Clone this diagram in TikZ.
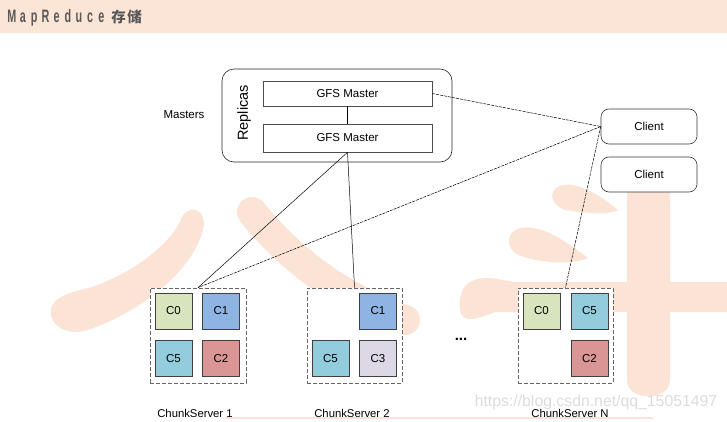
\documentclass[tikz,border=0pt]{standalone}
\usepackage{fontspec}
\setmainfont{Liberation Sans}
\newfontfamily\cjk{Noto Sans CJK SC}
\usepackage{graphicx}
\definecolor{wm}{HTML}{FBE4D5}
\definecolor{band}{HTML}{FBE5D6}
\definecolor{titlegray}{HTML}{595959}
\definecolor{cgreen}{HTML}{D7E4BD}
\definecolor{cblue}{HTML}{8EB4E3}
\definecolor{ccyan}{HTML}{93CDDD}
\definecolor{cred}{HTML}{D99694}
\definecolor{clav}{HTML}{DDD8E6}
\definecolor{csdn}{HTML}{DCDCDC}
\newcommand\tlet[1]{\makebox[11.2pt]{\scalebox{0.6}[1]{#1}}}
\tikzset{
  lbl/.style={inner sep=0pt, font=\fontsize{11.5}{13}\selectfont},
  gfsbox/.style={draw=black!70, line width=0.6pt, fill=white, minimum width=169pt, inner sep=0pt, font=\fontsize{11.5}{13}\selectfont},
  clientbox/.style={draw=black!80, line width=0.6pt, fill=white, rounded corners=8pt, minimum width=96pt, minimum height=35pt, inner sep=0pt, font=\fontsize{11.5}{13}\selectfont},
  serverbox/.style={draw=black!60, dash pattern=on 4pt off 2pt, line width=0.8pt, fill=white, minimum height=95pt, inner sep=0pt},
  chunk/.style={draw=black!75, line width=0.8pt, minimum width=37pt, minimum height=36pt, inner sep=0pt, font=\fontsize{11.5}{13}\selectfont},
  mline/.style={line width=0.5pt, black},
  cline/.style={line width=0.5pt, black, dash pattern=on 3pt off 1pt},
}
\begin{document}
\begin{tikzpicture}[x=1pt,y=-1pt]
\useasboundingbox (0,0) rectangle (727,421);
% header band
\fill[band] (0,0) rectangle (727,33);
\node[anchor=base west, inner sep=0pt, text=titlegray] (title) at (6,22)
  {\bfseries\fontsize{18}{18}\selectfont\tlet{M}\tlet{a}\tlet{p}\tlet{R}\tlet{e}\tlet{d}\tlet{u}\tlet{c}\tlet{e}\hspace{3.7pt}\makebox[16pt]{\cjk\bfseries\fontsize{14.5}{14}\selectfont 存}\makebox[16pt]{\cjk\bfseries\fontsize{14.5}{14}\selectfont 储}};
% watermark strokes
\fill[wm] (188,211) .. controls (198,206) and (207,216) .. (203,230)
  .. controls (192,272) and (140,312) .. (88,330)
  .. controls (62,338) and (46,320) .. (52,306)
  .. controls (56,296) and (72,292) .. (92,287)
  .. controls (130,274) and (166,248) .. (180,222)
  .. controls (182,216) and (184,213) .. (188,211) -- cycle;
\draw[wm, line width=30pt, line cap=round] (252,212) .. controls (300,272) and (360,305) .. (405,320);
\fill[wm] (560,186) .. controls (575,180) and (600,195) .. (618,210)
  .. controls (605,216) and (580,212) .. (565,210)
  .. controls (550,205) and (548,190) .. (560,186) -- cycle;
\fill[wm] (520,228) .. controls (540,224) and (565,240) .. (588,258)
  .. controls (570,266) and (535,262) .. (518,255)
  .. controls (505,248) and (506,232) .. (520,228) -- cycle;
\fill[wm] (470,282) .. controls (485,274) and (500,280) .. (515,282) -- (727,282) -- (727,312) -- (495,312)
  .. controls (480,318) and (462,325) .. (460,310)
  .. controls (458,298) and (462,287) .. (470,282) -- cycle;
\fill[wm] (627,190) -- (670,190) -- (670,380) .. controls (670,402) and (627,402) .. (627,380) -- cycle;
\draw[wm, line width=2pt] (225,418) -- (653,418);
% masters
\node[draw=black!85, line width=0.6pt, fill=white, rounded corners=12pt, minimum width=230pt, minimum height=93pt, inner sep=0pt] (mbox) at (337,115.5) {};
\node[gfsbox, minimum height=25pt] (gfs1) at (347.5,93.5) {GFS Master};
\node[gfsbox, minimum height=28pt] (gfs2) at (347.5,138) {GFS Master};
\node[lbl, rotate=90, font=\fontsize{14.5}{16}\selectfont] (rep) at (244,113) {Replicas};
\node[lbl] (mlabel) at (184,115) {Masters};
% clients
\node[clientbox] (c1) at (649,126.5) {Client};
\node[clientbox] (c2) at (649,174.5) {Client};
% chunk servers
\node[serverbox, minimum width=96pt] (cs1) at (198,335.5) {};
\node[serverbox, minimum width=95pt] (cs2) at (354.5,335.5) {};
\node[serverbox, minimum width=95pt] (csN) at (565.5,335.5) {};
% chunks
\node[chunk, fill=cgreen] (a0) at (173.5,311) {C0};
\node[chunk, fill=cblue] (a1) at (221,311) {C1};
\node[chunk, fill=ccyan] (a5) at (173.5,358.5) {C5};
\node[chunk, fill=cred] (a2) at (221,358.5) {C2};
\node[chunk, fill=cblue] (b1) at (378,311) {C1};
\node[chunk, fill=ccyan] (b5) at (330.5,358.5) {C5};
\node[chunk, fill=clav] (b3) at (378,358.5) {C3};
\node[chunk, fill=cgreen] (n0) at (541.5,311) {C0};
\node[chunk, fill=ccyan] (n5) at (589.5,311) {C5};
\node[chunk, fill=cred] (n2) at (589.5,358.5) {C2};
\node[lbl, font=\bfseries\fontsize{15}{15}\selectfont] (dots) at (461,339) {...};
% connectors
\draw[mline] (gfs1) -- (gfs2);
\draw[cline] (gfs1.east) -- (c1.west);
\draw[mline] (gfs2.south) -- (cs1.north);
\draw[mline] (gfs2.south) -- (cs2.north);
\draw[cline] (c1.west) -- (cs1.north);
\draw[cline] (c1.west) -- (csN.north);
% csdn watermark
\node[inner sep=0pt, text=csdn, font=\fontsize{15.8}{18}\selectfont] (csdnmark) at (596,402) {https://blog.csdn.net/qq\_15051497};
% server labels
\node[lbl, font=\fontsize{11.3}{13}\selectfont] (l1) at (195,413) {ChunkServer 1};
\node[lbl, font=\fontsize{11.3}{13}\selectfont] (l2) at (352,413) {ChunkServer 2};
\node[lbl, font=\fontsize{11.3}{13}\selectfont] (lN) at (570,413) {ChunkServer N};
\end{tikzpicture}
\end{document}
